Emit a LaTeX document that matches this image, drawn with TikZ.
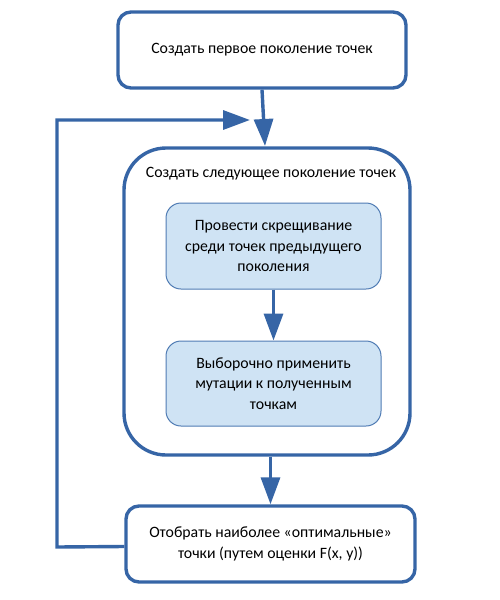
\documentclass[tikz,border=0pt]{standalone}
\usepackage{fontspec}
\setmainfont{Carlito}
\usetikzlibrary{arrows.meta}
\definecolor{bord}{RGB}{54,101,166}
\definecolor{fillb}{RGB}{207,227,244}
\definecolor{ibord}{RGB}{80,124,180}
\begin{document}
\begin{tikzpicture}[x=1pt,y=-1pt,
  every node/.style={font=\fontsize{15.8}{20.2}\selectfont, align=center, inner sep=0pt},
  mainbox/.style={draw=bord, line width=3.4pt, fill=white},
  subbox/.style={draw=ibord, line width=1pt, fill=fillb, rounded corners=15pt, minimum width=215pt, minimum height=86pt},
  conn/.style={draw=bord, line width=3.4pt, -{Triangle[length=27pt,width=19pt]}}
]
\path[use as bounding box] (0,0) rectangle (500,600);
\node[mainbox, rounded corners=13pt, minimum width=288pt, minimum height=76pt] (top) at (262,50) {Создать первое поколение точек};
\node[mainbox, rounded corners=42pt, minimum width=286pt, minimum height=307pt] (outer) at (267,301.5) {};
\node (title) at (271,174) {Создать следующее поколение точек};
\node[subbox] (in1) at (273.5,246) {Провести скрещивание\\среди точек предыдущего\\поколения};
\node[subbox, minimum height=85pt] (in2) at (273.5,383.5) {Выборочно применить\\мутации к полученным\\точкам};
\node[mainbox, rounded corners=13pt, minimum width=289pt, minimum height=76pt] (bot) at (270.5,544) {Отобрать наиболее «оптимальные»\\точки (путем оценки F(x, y))};
\coordinate (lb) at (57,547);
\coordinate (lt) at (57,120);
\coordinate (lp) at (250,120);
\coordinate (tp) at (265,146);
\draw[conn] (top.south) -- (tp);
\draw[conn] (in1.south) -- (in2.north);
\draw[conn] (outer.south -| bot.north) -- (bot.north);
\draw[conn, line join=miter] ([yshift=-2.5pt]bot.west) -- (lb) -- (lt) -- (lp);
\end{tikzpicture}
\end{document}
